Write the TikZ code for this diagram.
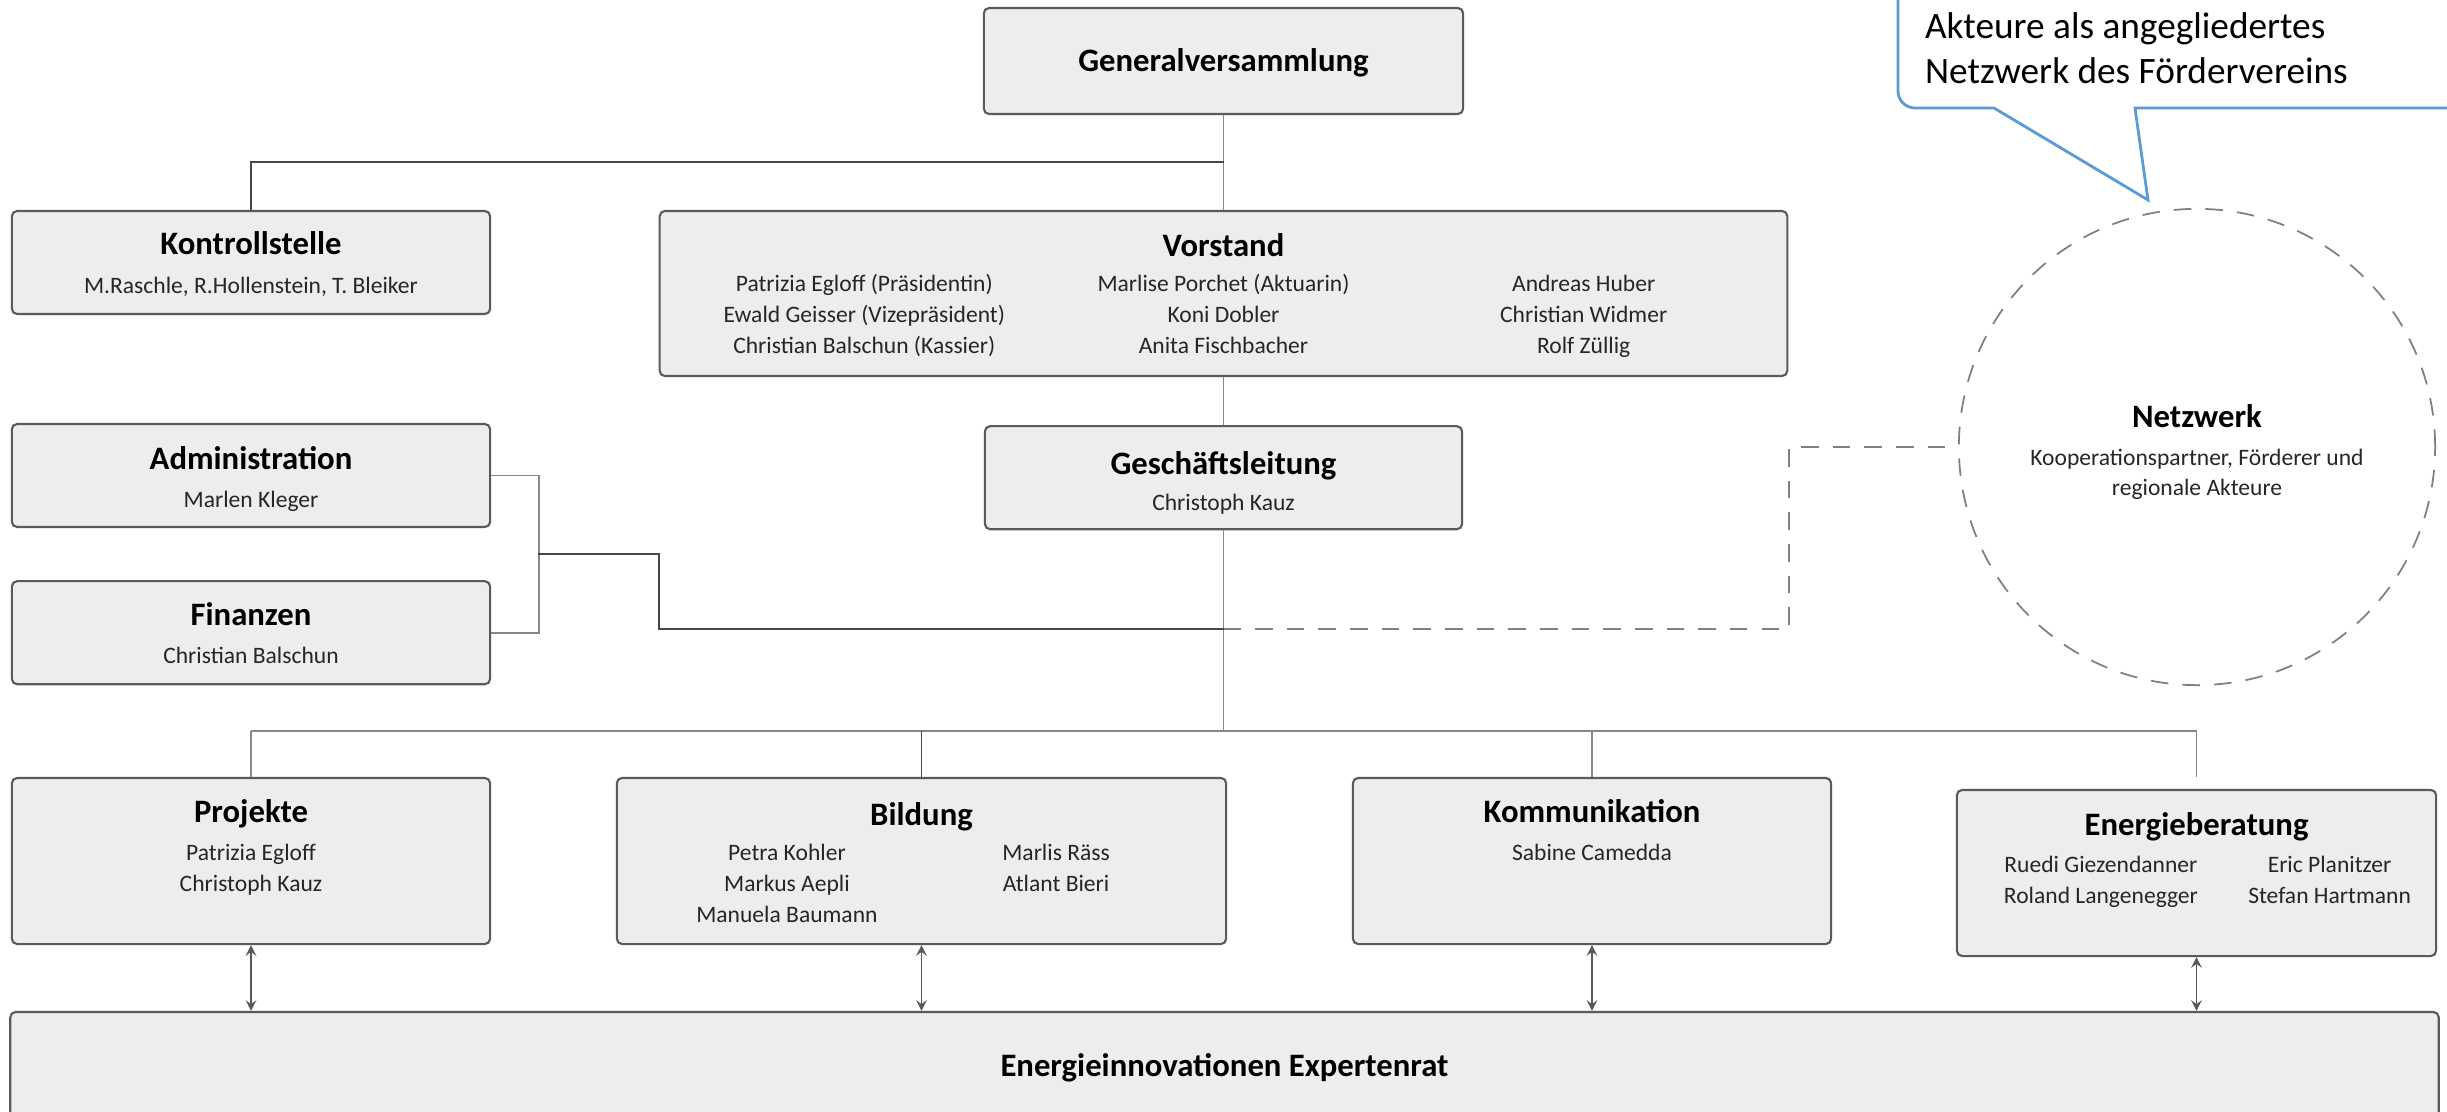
\documentclass[tikz,border=0pt]{standalone}
\usepackage{fontspec}
\setmainfont{Carlito}
\usetikzlibrary{shapes,arrows,positioning}

\definecolor{boxfill}{HTML}{EDEDED}
\definecolor{boxline}{HTML}{5A5A5A}
\definecolor{linegray}{HTML}{878787}
\definecolor{linedark}{HTML}{474747}
\definecolor{dashgray}{HTML}{808080}
\definecolor{callblue}{HTML}{5B9BD5}

\newcommand{\leute}[1]{\begin{tabular}[t]{@{}c@{}}#1\end{tabular}}

\begin{document}
\begin{tikzpicture}[
			x = 0.01cm,
			y = -0.01cm,
      > = stealth,
			node distance = 0.5cm,
			semithick]
			\tikzstyle{box}=[
			draw = boxline,
			line width = 0.6pt,
			fill = boxfill,
			rounded corners = 1.5pt,
			inner sep = 0pt,
			minimum width = 4.78cm,
			minimum height = 1.03cm]
			\tikzstyle{titel}=[anchor = base, inner sep = 0pt, font = \bfseries\fontsize{9.3}{11}\selectfont]
			\tikzstyle{namen}=[anchor = base, inner sep = 0pt, text = black!85, font = \fontsize{6.7}{8.7}\selectfont]
			\tikzstyle{link}=[draw = linegray, line width = 0.55pt]
			\tikzstyle{darklink}=[draw = linedark, line width = 0.55pt]
			\tikzstyle{netzlink}=[draw = dashgray, line width = 0.5pt, dash pattern = on 5pt off 4pt]
			\tikzstyle{pfeil}=[draw = linedark!90, line width = 0.35pt]

			\useasboundingbox (0,0) rectangle (2447,1112);
			\clip (0,0) rectangle (2447,1112);

			% callout
			\filldraw[draw = callblue, fill = white, line width = 0.8pt, rounded corners = 0.17cm]
				(2600,-40) -- (1898,-40) -- (1898,108) [sharp corners] -- (1994,108) -- (2148,200) -- (2135,108) -- (2600,108) -- cycle;
			\node[anchor = base west, inner sep = 0pt, font = \fontsize{10.6}{12.8}\selectfont] (hinweis) at (1924,38)
				{\begin{tabular}[t]{@{}l@{}}Akteure als angegliedertes\\Netzwerk des Fördervereins\end{tabular}};

			\node[box, minimum width = 4.79cm, minimum height = 1.06cm] (gv) at (1223.5,61) {};
			\node[box] (kst) at (251,262.5) {};
			\node[box, minimum width = 11.27cm, minimum height = 1.65cm] (vst) at (1223.5,293.5) {};
			\node[box] (adm) at (251,475.5) {};
			\node[box] (fin) [below=0.52cm of adm] {};
			\node[box, minimum width = 4.77cm] (gl) [below=0.48cm of vst] {};
			\node[netzlink, circle, minimum size = 4.76cm] (net) at (2197,447) {};

			\node[box, minimum height = 1.66cm] (proj) at (251,861) {};
			\node[box, minimum width = 6.09cm, minimum height = 1.66cm] (bild) at (921.5,861) {};
			\node[box, minimum height = 1.66cm] (komm) at (1592,861) {};
			\node[box, minimum width = 4.79cm, minimum height = 1.66cm] (eb) at (2196.5,873) {};
			\node[box, minimum width = 24.27cm, minimum height = 1.28cm] (exp) at (1224.5,1076) {};

			% texts
			\node[titel] (gv-t) at ([yshift=-0.65cm]gv.north) {Generalversammlung};
			\node[titel] (kst-t) at ([yshift=-0.45cm]kst.north) {Kontrollstelle};
			\node[namen] (kst-n) at ([yshift=-0.84cm]kst.north) {M.Raschle, R.Hollenstein, T. Bleiker};
			\node[titel] (vst-t) at ([yshift=-0.47cm]vst.north) {Vorstand};
			\node[namen] (vst-a) at ([xshift=-3.59cm, yshift=-0.82cm]vst.north) {\leute{Patrizia Egloff (Präsidentin)\\Ewald Geisser (Vizepräsident)\\Christian Balschun (Kassier)}};
			\node[namen] (vst-b) at ([yshift=-0.82cm]vst.north) {\leute{Marlise Porchet (Aktuarin)\\Koni Dobler\\Anita Fischbacher}};
			\node[namen] (vst-c) at ([xshift=3.6cm, yshift=-0.82cm]vst.north) {\leute{Andreas Huber\\Christian Widmer\\Rolf Züllig}};
			\node[titel] (adm-t) at ([yshift=-0.47cm]adm.north) {Administration};
			\node[namen] (adm-n) at ([yshift=-0.85cm]adm.north) {Marlen Kleger};
			\node[titel] (fin-t) at ([yshift=-0.45cm]fin.north) {Finanzen};
			\node[namen] (fin-n) at ([yshift=-0.83cm]fin.north) {Christian Balschun};
			\node[titel] (gl-t) at ([yshift=-0.49cm]gl.north) {Geschäftsleitung};
			\node[namen] (gl-n) at ([yshift=-0.85cm]gl.north) {Christoph Kauz};
			\node[titel] (net-t) at ([yshift=0.19cm]net.center) {Netzwerk};
			\node[namen] (net-n) at ([yshift=-0.18cm]net.center) {\leute{Kooperationspartner, Förderer und\\regionale Akteure}};
			\node[titel] (proj-t) at ([yshift=-0.46cm]proj.north) {Projekte};
			\node[namen] (proj-n) at ([yshift=-0.84cm]proj.north) {\leute{Patrizia Egloff\\Christoph Kauz}};
			\node[titel] (bild-t) at ([yshift=-0.49cm]bild.north) {Bildung};
			\node[namen] (bild-a) at ([xshift=-1.345cm, yshift=-0.84cm]bild.north) {\leute{Petra Kohler\\Markus Aepli\\Manuela Baumann}};
			\node[namen] (bild-b) at ([xshift=1.345cm, yshift=-0.84cm]bild.north) {\leute{Marlis Räss\\Atlant Bieri}};
			\node[titel] (komm-t) at ([yshift=-0.46cm]komm.north) {Kommunikation};
			\node[namen] (komm-n) at ([yshift=-0.84cm]komm.north) {Sabine Camedda};
			\node[titel] (eb-t) at ([yshift=-0.47cm]eb.north) {Energieberatung};
			\node[namen] (eb-a) at ([xshift=-0.955cm, yshift=-0.84cm]eb.north) {\leute{Ruedi Giezendanner\\Roland Langenegger}};
			\node[namen] (eb-b) at ([xshift=1.33cm, yshift=-0.84cm]eb.north) {\leute{Eric Planitzer\\Stefan Hartmann}};
			\node[titel] (exp-t) at ([yshift=-0.66cm]exp.north) {Energieinnovationen Expertenrat};

			% connectors
			\coordinate (gabel) at (1223.5,162);
			\coordinate (knoten) at (538,554);
			\coordinate (abzw) at (1223.5,629);
			\coordinate (bus) at (1223.5,731);

			\draw[link] (gv) -- (vst);
			\draw[darklink] (gabel) -| (kst);
			\draw[link] (vst) -- (gl);
			\draw[link] (gl) -- (bus);
			\draw[link] (adm.east) -- ++(48,0) |- (fin.east);
			\draw[darklink] (knoten) -- (659,554) |- (abzw);
			\draw[netzlink] (abzw) -| (1789,447) -- (net);

			\draw[link] (proj.north |- bus) -- (eb.north |- bus);
			\draw[link] (proj.north |- bus) -- (proj);
			\draw[darklink] (bild.north |- bus) -- (bild);
			\draw[link] (komm.north |- bus) -- (komm);
			\draw[link] (eb.north |- bus) -- ([yshift=0.12cm]eb.north);

			\draw[<->, pfeil] (proj) -- (proj |- exp.north);
			\draw[<->, pfeil] (bild) -- (bild |- exp.north);
			\draw[<->, pfeil] (komm) -- (komm |- exp.north);
			\draw[<->, pfeil] (eb) -- (eb |- exp.north);
		\end{tikzpicture}
\end{document}
